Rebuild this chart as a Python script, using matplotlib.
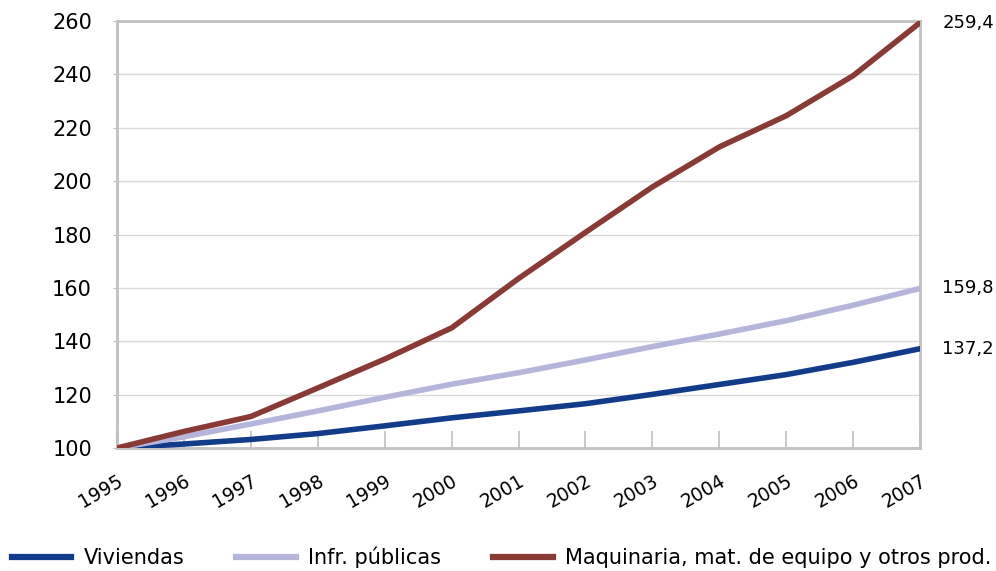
import matplotlib
matplotlib.use("Agg")
import matplotlib.pyplot as plt
from matplotlib.lines import Line2D

years = list(range(1995, 2008))
viviendas = [100, 101.5, 103.2, 105.4, 108.3, 111.3, 113.9, 116.6, 120.1, 123.8, 127.5, 132.1, 137.2]
infr_publicas = [100, 104.2, 109.0, 113.9, 119.0, 123.9, 128.2, 133.0, 138.0, 142.7, 147.7, 153.5, 159.8]
maquinaria = [100, 106.2, 111.8, 122.5, 133.3, 145.0, 163.5, 180.8, 197.8, 212.8, 224.5, 239.5, 259.4]
labels = ["Viviendas", "Infr. públicas", "Maquinaria, mat. de equipo y otros prod."]
end_labels = ["137,2", "159,8", "259,4"]

colors = ["#123c8a", "#b5b5dc", "#8a3a35"]
series = [viviendas, infr_publicas, maquinaria]

plt.rcParams['font.family'] = ['DejaVu Sans']

fig = plt.figure(figsize=(9.96, 5.71), dpi=100)
ax = fig.add_axes([0.1175, 0.2154, 0.8062, 0.7478])

for y in range(120, 261, 20):
    ax.axhline(y, color="#d9d9d9", lw=1.0, zorder=1)

for s, c, lab in zip(series, colors, labels):
    ax.plot(years, s, color=c, lw=4, label=lab, zorder=3, solid_capstyle='round')

ax.set_xlim(1995, 2007)
ax.set_ylim(100, 260)
ax.set_yticks(range(100, 261, 20))
ax.set_xticks(years)
ax.set_xticklabels([str(y) for y in years], rotation=30, ha='right', rotation_mode='anchor', fontsize=13.5)
ax.tick_params(axis='y', labelsize=15, length=3, color="#c0c0c0", pad=15)
ax.tick_params(axis='x', direction='in', length=12, color="#c0c0c0", width=1.2, pad=17)
for sp in ax.spines.values():
    sp.set_color("#c0c0c0")
    sp.set_linewidth(2)

for s, t in zip(series, end_labels):
    ax.annotate(t, xy=(2007, s[-1]), xytext=(16, 0), textcoords='offset points',
                va='center', ha='left', fontsize=13, annotation_clip=False)

handles = [Line2D([0], [0], color=c, lw=4.5) for c in colors]
fig.legend(handles, labels, loc='lower left', bbox_to_anchor=(-0.003, -0.02), ncol=3,
           frameon=False, fontsize=15, handlelength=2.85, columnspacing=2.5, handletextpad=0.6,
           borderaxespad=0.3)

fig.savefig("out.png", dpi=100)
